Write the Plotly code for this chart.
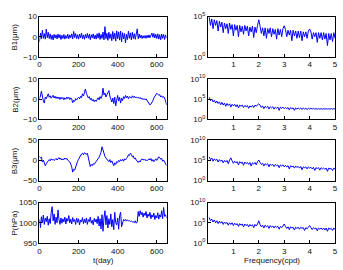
import plotly.graph_objects as go
from plotly.subplots import make_subplots

# ---------------- data ----------------
days = list(range(0, 651, 5))

b1 = [-2.5, 1.8, -1.0, 3.2, -0.8, 1.5, -1.2, 3.8, -0.5, 2.2,
      -0.9, 1.4, -1.3, 0.8, -1.6, 1.2, -0.7, 0.9, -1.1, 1.3,
      -0.6, 1.0, -1.4, 0.7, -0.9, 1.1, -1.2, 0.6, -0.8, 1.2,
      -1.0, 0.9, -0.5, 1.4, -1.1, 2.6, -0.4, 1.5, -0.9, 1.0,
      -1.2, 1.3, -0.6, 1.8, -1.0, 0.9, -1.3, 1.1, -0.7, 1.6,
      -0.8, 1.2, -1.5, 1.0, -0.6, 1.4, -1.1, 0.8, -1.2, 1.5,
      -0.7, 1.9, -1.4, 1.1, -0.9, 2.3, -1.6, 5.0, -1.0, 1.7,
      -1.8, 2.2, -0.9, 1.4, -2.0, 2.6, -1.2, 1.8, -2.2, 2.9,
      -1.0, 2.4, -1.7, 2.8, -2.5, 2.0, -1.1, 1.6, -3.0, 1.2,
      -1.4, 2.7, -0.8, 1.9, -1.6, 2.2, -0.9, 1.5, -1.3, 2.0,
      3.9, -1.0, 1.3, -0.6, 0.8, -0.9, 0.5, -0.7, 0.6, -0.8,
      0.7, -0.6, 0.9, -0.5, 1.1, 1.8, -0.3, 1.6, -0.6, 1.2,
      -0.9, 1.4, -1.2, 1.0, -1.5, 1.3, -0.8, 1.1, -1.4, 0.9,
      -0.6]

b2 = [0.2, 1.5, 3.9, 0.5, -0.8, -2.0, 1.0, 0.2, 1.8, 2.6,
      0.9, 1.6, 0.4, 1.2, 1.9, 0.5, 1.4, 0.3, 1.1, 0.2,
      1.0, -0.2, 0.9, 0.1, 0.8, -0.4, 0.6, -0.1, 1.0, 0.2,
      0.9, -0.3, 0.6, 0.0, -1.8, -0.6, -1.2, 0.2, -0.5, 0.4,
      0.8, 0.1, 1.4, 0.6, 2.6, 1.5, 3.2, 5.0, 2.8, 2.0,
      0.5, 1.2, -0.3, 0.4, -0.9, -0.2, -1.3, -0.5, -1.2, -0.2,
      0.6, -0.4, 1.2, 0.3, 1.5, 5.4, 2.0, 3.0, 1.0, 2.2,
      3.0, 4.2, 1.5, 0.0, -1.5, 0.5, -2.2, 1.0, -3.4, -0.6,
      1.8, -1.0, 0.8, -2.0, 0.5, -0.8, 1.2, 0.3, 1.8, 0.6,
      1.5, 0.2, 1.2, 0.9, 0.4, 1.6, 0.8, 1.4, 0.5, 1.1,
      0.6, 0.9, 0.3, 0.8, 0.0, 0.4, -0.3, 0.2, -0.4, 0.1,
      -0.8, -1.5, -2.2, -2.9, -2.5, -1.8, -0.8, 0.5, 1.5, 2.2,
      2.9, 2.4, 1.8, 2.2, 1.0, 1.6, 0.8, 1.2, 0.5, -1.0,
      -2.9]

b3 = [10, 6, 8, -4, 1, -9, -13, -8, -3, -1,
      2, -1, 4, 1, 3, 0, 2, 5, 1, 4,
      7, 3, 5, 1, 4, 2, 6, 3, 5, 1,
      -1, -4, -9, -16, -29, -22, -24, -15, -8, -2,
      3, 8, 12, 16, 18, 14, 19, 17, 15, 18,
      8, -5, -15, -10, -13, -8, -10, -6, -3, -1,
      2, 8, 14, 20, 34, 24, 18, 10, 6, 3,
      1, -3, 2, -5, -1, -8, -13, -6, -10, -3,
      -5, 0, -3, 2, -1, 3, -2, 4, 1, 5,
      8, 14, 12, 18, 15, 9, 11, 4, 6, 1,
      -2, -5, -1, -4, 2, 4, 1, 3, 0, 2,
      -1, 3, 4, 1, 5, -2, 2, -3, 1, 4,
      0, 6, 9, 7, 3, 5, -2, 1, -4, -6,
      -13]

pres = [1008, 988, 1015, 1000, 1019, 996, 1012, 1003, 1016, 994,
        1010, 998, 1025, 1040, 1005, 1022, 996, 1014, 1000, 1032,
        1008, 996, 1012, 999, 1010, 1002, 1014, 997, 1011, 1004,
        1018, 1000, 1009, 997, 1013, 1003, 1008, 996, 1012, 1001,
        1010, 995, 1007, 1002, 1013, 998, 1009, 1000, 1012, 996,
        1008, 1003, 1014, 999, 1006, 995, 1011, 1002, 1009, 998,
        1016, 992, 1010, 985, 1020, 979, 1012, 1030, 995, 1018,
        987, 1010, 996, 1022, 990, 1008, 983, 1026, 1000, 995,
        1012, 984, 1018, 1026, 990, 1004, 1008, 1005, 1009, 1004,
        1007, 1005, 1006, 1003, 1004, 1002, 1003, 1000, 1005, 999,
        1002, 1028, 1016, 1030, 1020, 1026, 1014, 1024, 1018, 1028,
        1012, 1022, 1016, 1026, 1010, 1020, 1014, 1024, 1008, 1018,
        1012, 1025, 1009, 1020, 1014, 1030, 1010, 1038, 1016, 1020,
        1012]

freq = [round(0.05 * k, 2) for k in range(1, 101)]

b1_spec_log = [4.9, 3.9, 4.7, 3.5, 4.6, 3.9, 4.5, 3.2, 4.4, 3.7,
               4.3, 3.0, 4.2, 3.5, 4.1, 2.9, 4.2, 3.4, 4.0, 2.6,
               4.0, 3.3, 3.9, 2.5, 3.9, 3.1, 3.8, 2.8, 3.9, 3.2,
               3.8, 2.6, 3.7, 3.1, 3.8, 2.4, 3.7, 3.0, 3.9, 4.6,
               3.8, 2.9, 3.6, 2.6, 3.6, 2.3, 3.5, 2.9, 3.6, 2.5,
               3.5, 2.8, 3.4, 2.2, 3.5, 2.7, 3.4, 2.5, 3.5, 3.85,
               3.4, 2.5, 3.3, 2.7, 3.3, 2.0, 3.3, 2.6, 3.2, 2.3,
               3.2, 2.4, 3.2, 2.0, 3.1, 2.5, 3.1, 2.3, 3.2, 3.45,
               3.1, 2.2, 3.0, 2.5, 3.0, 1.8, 3.0, 2.3, 3.0, 2.1,
               3.0, 2.2, 2.9, 1.4, 2.9, 2.1, 2.9, 1.9, 3.0, 2.3]

b2_spec_log = [5.4, 4.6, 5.0, 4.3, 4.7, 4.0, 4.5, 3.9, 4.3, 3.6,
               4.2, 3.5, 4.0, 3.2, 3.9, 3.4, 3.8, 3.0, 3.7, 3.3,
               3.7, 3.1, 3.6, 2.8, 3.5, 3.2, 3.5, 2.9, 3.4, 3.1,
               3.4, 2.7, 3.3, 3.0, 3.4, 2.9, 3.5, 3.2, 3.6, 3.8,
               3.5, 2.9, 3.3, 2.6, 3.2, 2.9, 3.2, 2.5, 3.1, 2.8,
               3.1, 2.5, 3.0, 2.7, 3.0, 2.2, 3.0, 2.7, 3.0, 2.6,
               2.9, 2.6, 2.9, 2.3, 2.9, 2.6, 2.8, 2.2, 2.8, 2.5,
               2.8, 2.5, 2.8, 2.4, 2.8, 2.5, 2.7, 2.4, 2.7, 2.5,
               2.7, 2.5, 2.7, 2.5, 2.6, 2.5, 2.6, 2.5, 2.6, 2.5,
               2.6, 2.5, 2.6, 2.5, 2.6, 2.5, 2.6, 2.5, 2.6, 2.5]

b3_spec_log = [5.9, 5.2, 5.6, 4.8, 5.4, 5.0, 5.3, 4.6, 5.2, 4.8,
               5.1, 4.4, 5.0, 4.6, 5.0, 4.2, 5.1, 5.65, 4.9, 4.3,
               4.8, 4.4, 4.7, 3.9, 4.7, 4.3, 4.6, 3.8, 4.6, 4.2,
               4.5, 4.0, 4.5, 3.6, 4.4, 4.1, 4.5, 3.9, 4.7, 5.1,
               4.5, 4.0, 4.3, 3.6, 4.2, 3.9, 4.2, 3.4, 4.1, 3.8,
               4.0, 3.5, 4.0, 3.7, 3.9, 3.2, 3.9, 3.6, 3.9, 3.4,
               3.8, 3.4, 3.7, 2.9, 3.7, 3.4, 3.6, 3.1, 3.6, 3.3,
               3.5, 3.1, 3.5, 2.7, 3.4, 3.2, 3.4, 2.9, 3.4, 3.1,
               3.3, 2.9, 3.3, 2.5, 3.2, 3.0, 3.2, 2.6, 3.2, 2.9,
               3.1, 2.8, 3.1, 2.3, 3.1, 2.9, 3.0, 2.5, 3.1, 2.8]

p_spec_log = [6.3, 5.5, 5.9, 5.2, 5.7, 5.0, 5.5, 4.8, 5.4, 4.9,
              5.3, 4.6, 5.2, 4.8, 5.1, 4.4, 5.0, 4.6, 5.0, 4.3,
              4.9, 4.5, 4.8, 4.1, 4.8, 4.4, 4.7, 4.0, 4.7, 4.3,
              4.6, 4.0, 4.6, 4.2, 4.5, 3.8, 4.6, 4.2, 4.7, 5.5,
              4.6, 4.0, 4.4, 3.7, 4.4, 4.0, 4.3, 3.6, 4.3, 3.9,
              4.2, 3.7, 4.2, 3.9, 4.1, 3.4, 4.1, 3.8, 4.2, 4.7,
              4.1, 3.6, 4.0, 3.3, 4.0, 3.7, 3.9, 3.2, 3.9, 3.6,
              3.9, 3.4, 3.9, 3.6, 3.8, 3.1, 3.8, 3.5, 3.9, 4.3,
              3.8, 3.3, 3.8, 3.5, 3.7, 3.0, 3.7, 3.4, 3.7, 3.3,
              3.7, 3.2, 3.7, 2.9, 3.7, 3.4, 3.6, 3.1, 3.7, 3.3]

series = [b1, b2, b3, pres]
spectra = [b1_spec_log, b2_spec_log, b3_spec_log, p_spec_log]
ylabels = ["B1(μm)", "B2(μm)", "B3(μm)", "P(hPa)"]
yranges = [(-10, 10), (-10, 10), (-50, 50), (950, 1050)]
yticks = [[-10, 0, 10], [-10, 0, 10], [-50, 0, 50], [950, 1000, 1050]]
spec_decades = [[0, 5], [0, 5, 10], [0, 5, 10], [0, 5, 10]]
time_ticks = [0, 200, 400, 600]
freq_ticks = [1, 2, 3, 4, 5]

# ---------------- figure ----------------
W, H = 343, 270
FONT = "Liberation Sans, Arial, sans-serif"
BLUE = "#0000ff"
TXT = "#111111"

fig = make_subplots(rows=4, cols=2)

left_x = [38 / W, 167 / W]
right_x = [209 / W, 338 / W]
tops = [11, 76, 140, 205]
bots = [53, 118, 182, 247]

axis_common = dict(showline=True, linecolor="black", linewidth=1, mirror=True,
                   ticks="inside", ticklen=3, tickcolor="black", showgrid=False,
                   zeroline=False, tickfont=dict(family=FONT, size=8, color=TXT))

for i in range(4):
    r = i + 1
    spec_vals = [10 ** v for v in spectra[i]]
    fig.add_trace(go.Scatter(x=days, y=series[i], mode="lines",
                             line=dict(color=BLUE, width=1), showlegend=False), row=r, col=1)
    fig.add_trace(go.Scatter(x=freq, y=spec_vals, mode="lines",
                             line=dict(color=BLUE, width=1), showlegend=False), row=r, col=2)
    dom_y = [1 - bots[i] / H, 1 - tops[i] / H]
    fig.update_xaxes(domain=left_x, range=[0, 650], tickvals=time_ticks, row=r, col=1, **axis_common)
    fig.update_yaxes(domain=dom_y, range=list(yranges[i]), tickvals=yticks[i], row=r, col=1, **axis_common)
    fig.update_xaxes(domain=right_x, range=[0, 5], tickvals=freq_ticks, row=r, col=2, **axis_common)
    dec = spec_decades[i]
    fig.update_yaxes(domain=dom_y, type="log", range=[dec[0], dec[-1]],
                     tickvals=[10 ** d for d in dec],
                     ticktext=["10<sup>%d</sup>" % d for d in dec],
                     row=r, col=2, **axis_common)
    fig.add_annotation(text=ylabels[i], xref="paper", yref="paper",
                       x=13 / W, y=(dom_y[0] + dom_y[1]) / 2, textangle=-90,
                       showarrow=False, xanchor="center", yanchor="middle",
                       font=dict(family=FONT, size=8, color=TXT))

fig.add_annotation(text="t(day)", xref="paper", yref="paper", x=(38 + 167) / 2 / W,
                   y=1 - 265 / H, showarrow=False, xanchor="center", yanchor="middle",
                   font=dict(family=FONT, size=8, color=TXT))
fig.add_annotation(text="Frequency(cpd)", xref="paper", yref="paper", x=(209 + 338) / 2 / W,
                   y=1 - 265 / H, showarrow=False, xanchor="center", yanchor="middle",
                   font=dict(family=FONT, size=8, color=TXT))

fig.update_layout(width=W, height=H, margin=dict(l=0, r=0, t=0, b=0),
                  paper_bgcolor="white", plot_bgcolor="white",
                  font=dict(family=FONT, size=8, color=TXT))

fig.write_html("out.html", config={"displayModeBar": False})
